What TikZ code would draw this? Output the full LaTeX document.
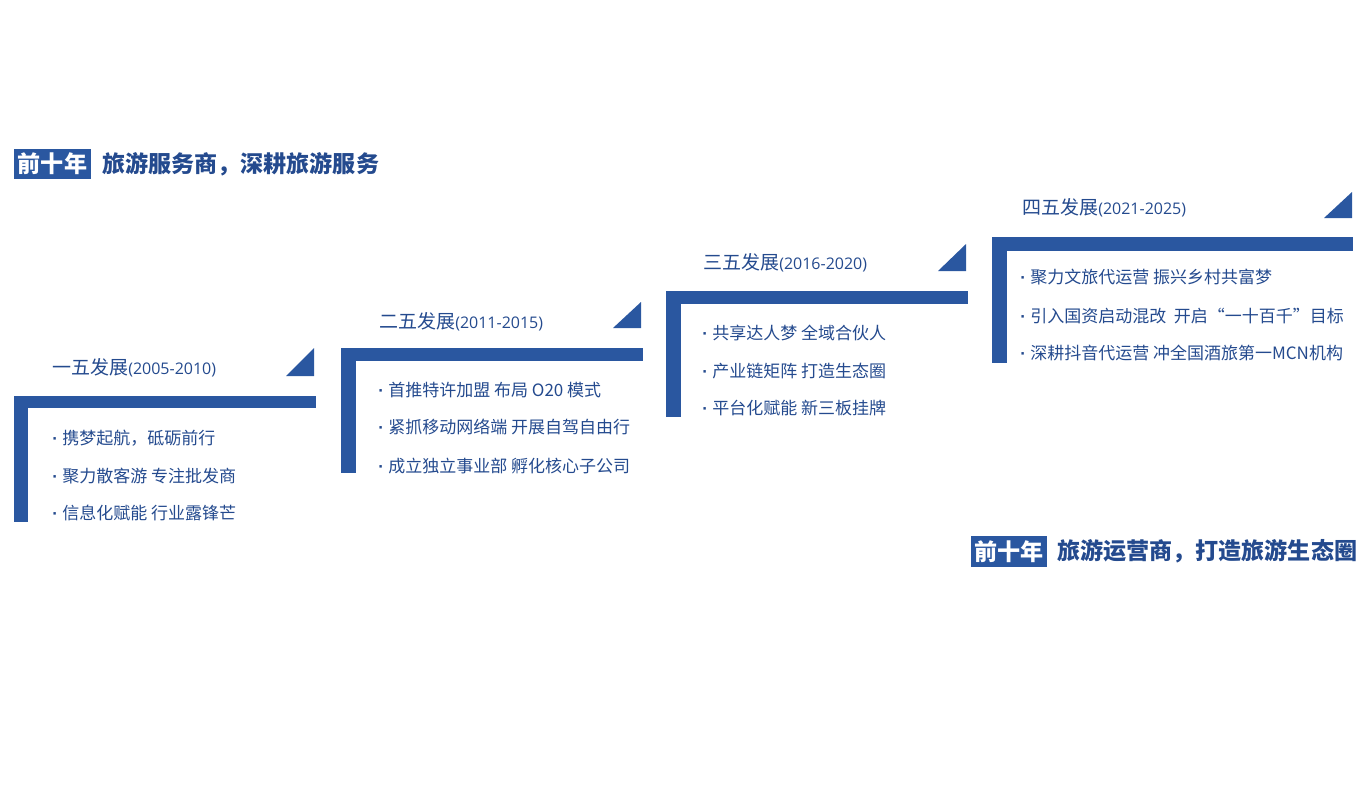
\documentclass[tikz,border=0pt]{standalone}
\usepackage{fontspec}
\setmainfont{Noto Sans CJK SC}
\newfontfamily\cjk{Noto Sans CJK SC}
\newfontfamily\latn{Open Sans}
\newfontfamily\dotfont{Liberation Sans}
\definecolor{barblue}{RGB}{42,87,160}
\definecolor{txtblue}{RGB}{36,74,142}
\tikzset{
  bar/.style={fill=barblue,draw=none},
  ttl/.style={anchor=west,inner sep=0pt,text=txtblue,font=\cjk\fontsize{14.25pt}{16pt}\selectfont},
  item/.style={anchor=west,inner sep=0pt,text=txtblue,font=\cjk\fontsize{12.75pt}{14pt}\selectfont},
  hbox/.style={fill=barblue,text=white,inner sep=0pt,minimum width=57.5pt,minimum height=23pt,font=\cjk\bfseries\fontsize{17.3pt}{19pt}\selectfont},
  htxt/.style={anchor=west,inner sep=0pt,text=txtblue,font=\cjk\bfseries\fontsize{17.3pt}{19pt}\selectfont}
}
\newcommand{\yrs}[1]{{\latn\fontsize{12pt}{13pt}\selectfont #1}}
\newcommand{\bul}{\makebox[7.5pt][l]{\dotfont\bfseries ·}}
\begin{document}
\begin{tikzpicture}[x=0.75pt,y=-0.75pt]
\useasboundingbox (0,0) rectangle (1370,800);
% header top
\node[hbox] (h1) at (52.5,164) {前十年};
\node[htxt] (h1t) at (102,164) {旅游服务商，深耕旅游服务};
% header bottom
\node[hbox] (h2) at (1009,551.5) {前十年};
\node[htxt] (h2t) at (1057,551.5) {旅游运营商，打造旅游生态圈};
% stage 1
\fill[bar] (14,396) rectangle (316,408);
\fill[bar] (14,396) rectangle (28,522);
\fill[bar] (286,376) -- (314,348) -- (314,376) -- cycle;
\node[ttl] (t1) at (52,368) {一五发展\yrs{(2005-2010)}};
\node[item] (a1) at (52,438) {\bul 携梦起航，砥砺前行};
\node[item] (a2) at (52,476) {\bul 聚力散客游 专注批发商};
\node[item] (a3) at (52,513) {\bul 信息化赋能 行业露锋芒};
% stage 2
\fill[bar] (341,348) rectangle (643,361);
\fill[bar] (341,348) rectangle (356,473);
\fill[bar] (613,328) -- (641,302) -- (641,328) -- cycle;
\node[ttl] (t2) at (379,322) {二五发展\yrs{(2011-2015)}};
\node[item] (b1) at (378,390) {\bul 首推特许加盟 布局 O20 模式};
\node[item] (b2) at (378,427) {\bul 紧抓移动网络端 开展自驾自由行};
\node[item] (b3) at (378,466) {\bul 成立独立事业部 孵化核心子公司};
% stage 3
\fill[bar] (666,291) rectangle (968,304);
\fill[bar] (666,291) rectangle (681,417);
\fill[bar] (938,271) -- (966,244) -- (966,271) -- cycle;
\node[ttl] (t3) at (703,263) {三五发展\yrs{(2016-2020)}};
\node[item] (c1) at (702,333) {\bul 共享达人梦 全域合伙人};
\node[item] (c2) at (702,371) {\bul 产业链矩阵 打造生态圈};
\node[item] (c3) at (702,408) {\bul 平台化赋能 新三板挂牌};
% stage 4
\fill[bar] (992,237) rectangle (1353,251);
\fill[bar] (992,237) rectangle (1007,363);
\fill[bar] (1324,218) -- (1352,192) -- (1352,218) -- cycle;
\node[ttl] (t4) at (1022,208) {四五发展\yrs{(2021-2025)}};
\node[item] (d1) at (1020,277) {\bul 聚力文旅代运营 振兴乡村共富梦};
\node[item] (d2) at (1020,316) {\bul 引入国资启动混改\ \ 开启“一十百千”目标};
\node[item] (d3) at (1020,353) {\bul 深耕抖音代运营 冲全国酒旅第一MCN机构};
\end{tikzpicture}
\end{document}
